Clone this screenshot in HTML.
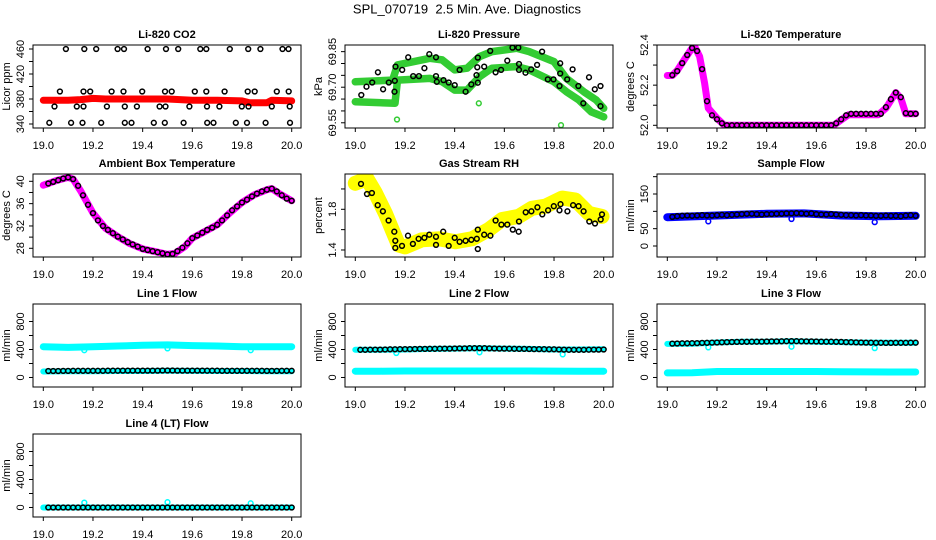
<!DOCTYPE html>
<html><head><meta charset="utf-8"><style>
html,body{margin:0;padding:0;background:#fff;}
svg{display:block;font-family:"Liberation Sans",sans-serif;}
</style></head><body>
<svg id="chart" width="936" height="540" viewBox="0 0 936 540" xmlns="http://www.w3.org/2000/svg">
<rect width="936" height="540" fill="#fff"/>
<text x="467" y="13.5" text-anchor="middle" font-size="13" style="white-space:pre" xml:space="preserve">SPL_070719  2.5 Min. Ave. Diagnostics</text>
</svg>
<script>
// ---------- data ----------
const T = [19.02,19.04,19.06,19.08,19.10,19.12,19.14,19.16,19.18,19.20,19.22,19.24,19.26,19.28,19.30,19.32,19.34,19.36,19.38,19.40,19.42,19.44,19.46,19.48,19.50,19.52,19.54,19.56,19.58,19.60,19.62,19.64,19.66,19.68,19.70,19.72,19.74,19.76,19.78,19.80,19.82,19.84,19.86,19.88,19.90,19.92,19.94,19.96,19.98,20.00];
const xTicks = [19.0,19.2,19.4,19.6,19.8,20.0];
const xTickLabels = ["19.0","19.2","19.4","19.6","19.8","20.0"];
const outT = [19.165,19.5,19.835];

const co2BandT = [19.0,19.05,19.1,19.15,19.2,19.25,19.3,19.4,19.5,19.55,19.6,19.7,19.8,19.83,19.9,19.92,20.0];
const co2BandV = [378,378,378,379,381,380,380,380,380,379,378,378,377,374,374,378,377];
const co2CircT = [19.091,19.165,19.213,19.299,19.325,19.42,19.494,19.543,19.632,19.656,19.751,19.825,19.874,19.963,19.987,
 19.067,19.162,19.189,19.275,19.323,19.398,19.490,19.517,19.610,19.656,19.730,19.823,19.851,19.940,19.988,
 19.045,19.135,19.162,19.256,19.328,19.377,19.468,19.492,19.588,19.659,19.709,19.799,19.826,19.920,19.992,
 19.024,19.112,19.158,19.233,19.328,19.355,19.445,19.489,19.565,19.660,19.685,19.775,19.820,19.895,19.993];
const co2CircV = [460,460,460,460,460,460,460,460,460,460,460,460,460,460,460,
 392,392,392,392,392,392,392,392,392,392,392,392,392,392,392,
 368,368,368,368,368,368,368,368,368,368,368,368,368,368,368,
 342,342,342,342,342,342,342,342,342,342,342,342,342,342,342];

const presBand1T = [19.0,19.15,19.17,19.3,19.35,19.4,19.45,19.5,19.55,19.65,19.7,19.8,19.85,19.92,19.97,20.0];
const presBand1V = [69.723,69.730,69.794,69.822,69.815,69.773,69.780,69.829,69.850,69.864,69.850,69.808,69.737,69.681,69.646,69.611];
const presBand2T = [19.0,19.16,19.17,19.3,19.35,19.4,19.45,19.5,19.55,19.65,19.7,19.8,19.85,19.9,19.95,20.0];
const presBand2V = [69.639,69.632,69.730,69.737,69.723,69.688,69.688,69.744,69.780,69.787,69.773,69.723,69.681,69.646,69.596,69.575];
const presCircT = [19.024,19.045,19.068,19.091,19.112,19.135,19.158,19.162,19.159,19.189,19.213,19.233,19.256,19.278,19.298,19.325,19.325,19.328,19.355,19.376,19.40,19.42,19.444,19.467,19.488,19.491,19.493,19.493,19.519,19.543,19.565,19.587,19.612,19.633,19.656,19.659,19.659,19.685,19.708,19.732,19.752,19.775,19.798,19.825,19.825,19.822,19.853,19.875,19.898,19.918,19.941,19.964,19.987,19.987];
const presCircV = [69.667,69.702,69.720,69.763,69.691,69.720,69.681,69.787,69.727,69.773,69.826,69.747,69.747,69.780,69.839,69.826,69.747,69.723,69.730,69.720,69.709,69.773,69.681,69.712,69.751,69.784,69.825,69.719,69.787,69.853,69.763,69.773,69.812,69.867,69.867,69.798,69.773,69.761,69.775,69.794,69.850,69.733,69.733,69.801,69.758,69.705,69.733,69.775,69.705,69.632,69.742,69.691,69.705,69.620];
const presOutT = [19.168,19.497,19.828];
const presOutV = [69.564,69.632,69.540];

const tempBandT = [19.0,19.02,19.04,19.07,19.1,19.11,19.13,19.15,19.165,19.2,19.23,19.67,19.7,19.73,19.85,19.88,19.92,19.94,19.96,20.0];
const tempBandV = [52.248,52.248,52.273,52.33,52.385,52.393,52.343,52.21,52.085,52.035,52.0,52.0,52.027,52.053,52.053,52.085,52.163,52.135,52.057,52.057];
const tempCircV = [52.25,52.27,52.31,52.35,52.385,52.37,52.28,52.12,52.05,52.03,52.01,
 52.0,52.0,52.0,52.0,52.0,52.0,52.0,52.0,52.0,52.0,52.0,52.0,52.0,52.0,52.0,52.0,52.0,52.0,52.0,52.0,52.0,52.0,
 52.01,52.03,52.05,52.057,52.057,52.057,52.057,52.057,52.057,52.057,52.09,52.13,52.163,52.14,52.06,52.057,52.057];

const ambBandT = [19.0,19.02,19.05,19.1,19.12,19.15,19.2,19.25,19.3,19.35,19.4,19.45,19.5,19.53,19.57,19.6,19.65,19.7,19.75,19.8,19.85,19.9,19.92,19.95,20.0];
const ambBandV = [39.3,39.6,40.1,40.7,40.4,38.3,34.3,31.6,30.1,28.8,27.9,27.4,26.9,27.1,28.3,29.8,31.0,32.2,34.3,36.2,37.6,38.5,38.7,37.8,36.5];
const ambCircV = [39.6,39.9,40.2,40.5,40.7,40.4,39.2,37.5,35.8,34.3,33.0,32.0,31.3,30.7,30.1,29.6,29.1,28.7,28.3,27.9,27.7,27.5,27.3,27.1,26.9,27.0,27.5,28.1,28.9,29.8,30.3,30.8,31.3,31.7,32.2,33.0,33.9,34.8,35.5,36.2,36.7,37.3,37.8,38.2,38.5,38.7,38.2,37.5,36.9,36.5];

const rhBandT = [19.0,19.047,19.081,19.121,19.148,19.174,19.201,19.268,19.336,19.403,19.47,19.537,19.591,19.658,19.711,19.765,19.832,19.886,19.94,19.993];
const rhBandV = [2.056,2.10,1.96,1.76,1.60,1.45,1.43,1.50,1.51,1.48,1.51,1.60,1.70,1.73,1.81,1.83,1.91,1.89,1.76,1.73];
const rhCircT = [19.023,19.047,19.067,19.090,19.111,19.134,19.157,19.161,19.161,19.188,19.212,19.232,19.255,19.278,19.298,19.325,19.325,19.354,19.376,19.400,19.420,19.444,19.467,19.489,19.493,19.493,19.519,19.544,19.565,19.588,19.612,19.634,19.659,19.658,19.686,19.709,19.733,19.753,19.776,19.799,19.822,19.826,19.854,19.877,19.899,19.919,19.942,19.965,19.988,19.993];
const rhCircV = [2.05,1.95,1.96,1.84,1.78,1.69,1.58,1.49,1.42,1.44,1.54,1.46,1.51,1.52,1.55,1.53,1.45,1.58,1.44,1.52,1.48,1.49,1.50,1.51,1.60,1.41,1.55,1.54,1.69,1.65,1.65,1.60,1.68,1.58,1.77,1.78,1.82,1.75,1.79,1.83,1.79,1.85,1.78,1.84,1.83,1.78,1.68,1.66,1.70,1.75];

const sampBandT = [19.0,19.2,19.4,19.55,19.7,19.85,20.0];
const sampBandV = [83,88,93,94,88,86,87];
const sampCircV = [84,86,87,88,87,88,89,88,88,89,90,89,90,91,92,93,93,92,91,92,92,93,93,94,94,95,94,93,94,92,91,91,92,91,90,89,89,88,89,88,88,87,87,88,87,87,86,88,89,87];
const sampOutV = [71,78,69];

const flowBandT = [19.0,19.1,19.2,19.3,19.4,19.5,19.6,19.7,19.8,19.9,20.0];
const l1Upper = [440,430,440,450,460,465,455,450,440,440,440];
const l1Lower = [85,88,90,92,93,95,94,93,92,90,90];
const l1Circ = [92,93,93,94,94,95,95,95,95,96,96,96,97,97,97,98,98,98,98,99,99,99,99,100,100,100,99,99,99,98,98,98,97,97,97,96,96,96,96,95,95,95,95,95,94,94,94,95,95,95];
const l1Out = [390,415,390];
const l2Upper = [395,395,400,408,412,418,412,408,400,400,402];
const l2Lower = [90,90,92,92,93,93,92,92,91,90,90];
const l2Circ = [395,396,397,398,399,400,402,403,404,405,406,407,408,409,410,410,411,412,413,414,415,416,418,419,420,418,416,414,413,412,411,410,409,408,407,406,405,404,403,402,400,398,396,395,395,396,397,398,399,400];
const l2Out = [350,360,330];
const l3Upper = [480,482,500,510,512,518,512,505,498,495,495];
const l3Lower = [65,68,85,85,85,85,85,83,80,78,78];
const l3Circ = [484,486,488,489,490,492,494,496,498,500,503,505,507,508,510,510,511,512,513,514,515,516,517,518,520,518,517,516,515,514,513,512,511,510,508,506,504,502,500,498,497,496,495,494,494,495,496,496,497,497];
const l3Out = [430,440,420];
const l4Band = [0,0,0,0,0,0,0,0,0,0,0];
const l4Circ = [0,0,0,0,0,0,0,0,0,0,0,0,0,0,0,0,0,0,0,0,0,0,0,0,0,0,0,0,0,0,0,0,0,0,0,0,0,0,0,0,0,0,0,0,0,0,0,0,0,0];
const l4Out = [70,75,60];

const flowTicks = [0,200,400,600,800];
const flowLabels = ["0","","400","","800"];

// ---------- drawing ----------
const NS = "http://www.w3.org/2000/svg";
const svg = document.getElementById("chart");
function mk(tag, attrs, parent) {
  const e = document.createElementNS(NS, tag);
  for (const k in attrs) e.setAttribute(k, attrs[k]);
  (parent || svg).appendChild(e);
  return e;
}
const colX = [0, 312, 624];
const rowY = [0, 129, 259, 389];

function panel(p) {
  const L = 33 + colX[p.col], R = 301 + colX[p.col];
  const top = 45 + rowY[p.row], bot = 128 + rowY[p.row];
  const g = mk("g", {});
  
  
  const xs = t => L + 10.3 + (t - 19) * 248.4;
  const ys = v => bot - (v - p.ylim[0]) / (p.ylim[1] - p.ylim[0]) * (bot - top);
  const cid = "c" + p.name;
  const cp = mk("clipPath", {id: cid}, g);
  mk("rect", {x: L, y: top, width: R - L, height: bot - top}, cp);
  const plot = mk("g", {"clip-path": "url(#" + cid + ")"}, g);
  (p.bands || []).forEach(b => {
    let d = "";
    b.t.forEach((t, i) => { d += (i ? "L" : "M") + xs(t).toFixed(1) + " " + ys(b.v[i]).toFixed(1); });
    const path = mk("path", {d: d, fill: "none", stroke: b.color, "stroke-width": b.w, "stroke-linejoin": "round", "stroke-linecap": "round"}, plot);
    
    
  });
  (p.circles || []).forEach(c => {
    const cg = mk("g", {}, plot);
    
    
    c.t.forEach((t, i) => {
      const pt = mk("circle", {cx: xs(t).toFixed(1), cy: ys(c.v[i]).toFixed(1), r: 2.4, fill: "none", stroke: c.color, "stroke-width": 1.5}, cg);
      
      
    });
  });
  const box = mk("rect", {x: L, y: top, width: R - L, height: bot - top, fill: "none", stroke: "#000", "stroke-width": 1}, g);
  
  
  const xa = mk("g", {}, g);
  
  
  mk("line", {x1: xs(19), x2: xs(20), y1: bot, y2: bot, stroke: "#000"}, xa);
  xTicks.forEach((t, i) => {
    mk("line", {x1: xs(t), x2: xs(t), y1: bot, y2: bot + 4, stroke: "#000"}, xa);
    const tx = mk("text", {x: xs(t), y: bot + 21, "text-anchor": "middle", "font-size": 11}, xa);
    tx.textContent = xTickLabels[i];
    
    
  });
  const ya = mk("g", {}, g);
  
  
  p.yticks.forEach((v, i) => {
    mk("line", {x1: L - 4, x2: L, y1: ys(v), y2: ys(v), stroke: "#000"}, ya);
    if (p.ylabels[i]) {
      const x = L - 9, y = ys(v);
      const tx = mk("text", {x: x, y: y, "text-anchor": "middle", "font-size": 11, transform: "rotate(-90 " + x + " " + y + ")"}, ya);
      tx.textContent = p.ylabels[i];
      
      
    }
  });
  const yx = L - 23, yy = (top + bot) / 2;
  const yt = mk("text", {x: yx, y: yy, "text-anchor": "middle", "font-size": 11, transform: "rotate(-90 " + yx + " " + yy + ")"}, g);
  yt.textContent = p.ylab;
  
  
  const tt = mk("text", {x: (L + R) / 2, y: top - 7, "text-anchor": "middle", "font-size": 11, "font-weight": "bold"}, g);
  tt.textContent = p.title;
  
  
}

const GREEN = "#33cc33", MAG = "#ff00ff", CYAN = "#00ffff";
panel({name: "co2-panel", col: 0, row: 0, title: "Li-820 CO2", ylab: "Licor ppm", ylim: [333.6, 466.4],
  yticks: [340,360,380,400,420,440,460], ylabels: ["340","","380","","420","","460"],
  bands: [{name: "co2-series", t: co2BandT, v: co2BandV, color: "#ff0000", w: 7}],
  circles: [{name: "co2-samples", t: co2CircT, v: co2CircV, color: "#000"}]});
panel({name: "pressure-panel", col: 1, row: 0, title: "Li-820 Pressure", ylab: "kPa", ylim: [69.528, 69.878],
  yticks: [69.55,69.60,69.65,69.70,69.75,69.80,69.85], ylabels: ["69.55","","","69.70","","","69.85"],
  bands: [{name: "pressure-band-upper", t: presBand1T, v: presBand1V, color: GREEN, w: 7.5},
          {name: "pressure-band-lower", t: presBand2T, v: presBand2V, color: GREEN, w: 7.5}],
  circles: [{name: "pressure-outliers", t: presOutT, v: presOutV, color: GREEN},
            {name: "pressure-samples", t: presCircT, v: presCircV, color: "#000"}]});
panel({name: "licor-temp-panel", col: 2, row: 0, title: "Li-820 Temperature", ylab: "degrees C", ylim: [51.9865, 52.4],
  yticks: [52.0,52.1,52.2,52.3,52.4], ylabels: ["52.0","","52.2","","52.4"],
  bands: [{name: "licor-temp-series", t: tempBandT, v: tempBandV, color: MAG, w: 7}],
  circles: [{name: "licor-temp-samples", t: T, v: tempCircV, color: "#000"}]});
panel({name: "ambient-temp-panel", col: 0, row: 1, title: "Ambient Box Temperature", ylab: "degrees C", ylim: [26.44, 41.31],
  yticks: [28,30,32,34,36,38,40], ylabels: ["28","","32","","36","","40"],
  bands: [{name: "ambient-temp-series", t: ambBandT, v: ambBandV, color: MAG, w: 7}],
  circles: [{name: "ambient-temp-samples", t: T, v: ambCircV, color: "#000"}]});
panel({name: "rh-panel", col: 1, row: 1, title: "Gas Stream RH", ylab: "percent", ylim: [1.331, 2.147],
  yticks: [1.4,1.6,1.8,2.0], ylabels: ["1.4","","1.8",""],
  bands: [{name: "rh-series", t: rhBandT, v: rhBandV, color: "#ffff00", w: 15}],
  circles: [{name: "rh-samples", t: rhCircT, v: rhCircV, color: "#000"}]});
panel({name: "sample-flow-panel", col: 2, row: 1, title: "Sample Flow", ylab: "ml/min", ylim: [-31.7, 207.7],
  yticks: [0,50,100,150,200], ylabels: ["0","50","","150",""],
  bands: [{name: "sample-flow-series", t: sampBandT, v: sampBandV, color: "#0000ff", w: 8}],
  circles: [{name: "sample-flow-outliers", t: outT, v: sampOutV, color: "#0000ff"},
            {name: "sample-flow-samples", t: T, v: sampCircV, color: "#000"}]});
const fl = [-136, 1050];
panel({name: "line1-flow-panel", col: 0, row: 2, title: "Line 1 Flow", ylab: "ml/min", ylim: fl, yticks: flowTicks, ylabels: flowLabels,
  bands: [{name: "line1-upper", t: flowBandT, v: l1Upper, color: CYAN, w: 7}, {name: "line1-lower", t: flowBandT, v: l1Lower, color: CYAN, w: 6}],
  circles: [{name: "line1-outliers", t: outT, v: l1Out, color: CYAN}, {name: "line1-samples", t: T, v: l1Circ, color: "#000"}]});
panel({name: "line2-flow-panel", col: 1, row: 2, title: "Line 2 Flow", ylab: "ml/min", ylim: fl, yticks: flowTicks, ylabels: flowLabels,
  bands: [{name: "line2-upper", t: flowBandT, v: l2Upper, color: CYAN, w: 6}, {name: "line2-lower", t: flowBandT, v: l2Lower, color: CYAN, w: 7}],
  circles: [{name: "line2-outliers", t: outT, v: l2Out, color: CYAN}, {name: "line2-samples", t: T, v: l2Circ, color: "#000"}]});
panel({name: "line3-flow-panel", col: 2, row: 2, title: "Line 3 Flow", ylab: "ml/min", ylim: fl, yticks: flowTicks, ylabels: flowLabels,
  bands: [{name: "line3-upper", t: flowBandT, v: l3Upper, color: CYAN, w: 6}, {name: "line3-lower", t: flowBandT, v: l3Lower, color: CYAN, w: 7}],
  circles: [{name: "line3-outliers", t: outT, v: l3Out, color: CYAN}, {name: "line3-samples", t: T, v: l3Circ, color: "#000"}]});
panel({name: "line4-flow-panel", col: 0, row: 3, title: "Line 4 (LT) Flow", ylab: "ml/min", ylim: fl, yticks: flowTicks, ylabels: flowLabels,
  bands: [{name: "line4-series", t: flowBandT, v: l4Band, color: CYAN, w: 6}],
  circles: [{name: "line4-outliers", t: outT, v: l4Out, color: CYAN}, {name: "line4-samples", t: T, v: l4Circ, color: "#000"}]});
</script>
</body></html>
